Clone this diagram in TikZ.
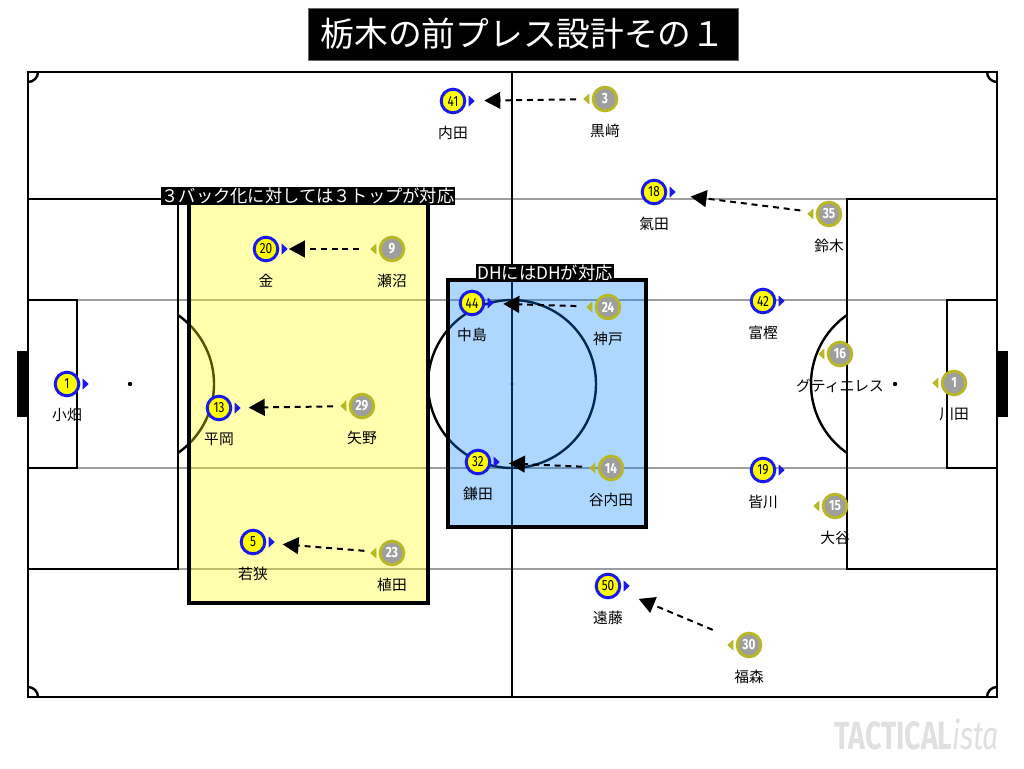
\documentclass[tikz,border=0pt]{standalone}
\usepackage{fontspec}
\setmainfont{Noto Sans CJK JP}
\newfontfamily\numfont[FakeStretch=0.8]{Fira Sans}
\newfontfamily\markfont[FakeStretch=0.72]{Fira Sans}
\usetikzlibrary{positioning,arrows.meta}

\definecolor{homeblue}{RGB}{25,25,235}
\definecolor{homeyellow}{RGB}{255,255,0}
\definecolor{awaygray}{RGB}{158,158,158}
\definecolor{awayolive}{RGB}{183,183,40}
\definecolor{threeyellow}{RGB}{255,255,0}
\definecolor{dhblue}{RGB}{0,132,255}

\begin{document}
\begin{tikzpicture}[x=0.25mm, y=-0.25mm, font=\fontsize{10.5}{12}\selectfont, node distance=2.2mm,
    pitch/.style={line width=0.6mm},
    lane/.style={line width=0.45mm, black!38},
    zone/.style={line width=0.8mm, fill opacity=0.32},
    tag/.style={fill=black, text=white, inner sep=0.6pt, font=\fontsize{12.3}{13}\selectfont},
    home/.style={circle, draw=homeblue, fill=homeyellow, line width=0.75mm, minimum size=5.9mm,
      inner sep=0pt, font=\numfont\fontsize{10.5}{10}\selectfont},
    away/.style={circle, draw=awayolive, fill=awaygray, line width=0.75mm, minimum size=5.9mm,
      inner sep=0pt, text=white, font=\numfont\bfseries\fontsize{10.5}{10}\selectfont},
    player/.style={inner sep=0pt},
    press/.style={-{Triangle[length=4mm, width=4.2mm]}, line width=0.5mm,
      dash pattern=on 1.5mm off 1.2mm, shorten <=3.9mm, shorten >=4.5mm}]

  \useasboundingbox (0,0) rectangle (1024,768);

  % lanes
  \foreach \ly in {199,300,468,569}
    \draw[lane] (28,\ly) -- (997,\ly);

  % pitch
  \draw[pitch] (28,72) rectangle (997,697);
  \draw[pitch] (512,72) -- (512,697);
  \draw[pitch] (512,384) circle[radius=84];
  \fill (512,384) circle[radius=1.6];
  \draw[pitch] (28,199) rectangle (178,569);
  \draw[pitch] (28,300) rectangle (77,468);
  \draw[pitch] (847,199) rectangle (997,569);
  \draw[pitch] (947,300) rectangle (997,468);
  \fill (130,384) circle[radius=2.2];
  \fill (895,384) circle[radius=2.2];
  \begin{scope}
    \clip (178,250) rectangle (300,520);
    \draw[pitch] (130,384) circle[radius=84];
  \end{scope}
  \begin{scope}
    \clip (700,250) rectangle (847,520);
    \draw[pitch] (895,384) circle[radius=84];
  \end{scope}
  \begin{scope}
    \clip (28,72) rectangle (997,697);
    \foreach \cx/\cy in {28/72,997/72,28/697,997/697}
      \draw[pitch] (\cx,\cy) circle[radius=10];
  \end{scope}
  \fill (17,351) rectangle (28,417);
  \fill (997,351) rectangle (1008,417);

  % zones
  \draw[zone, fill=threeyellow] (189,203) rectangle (428,603);
  \draw[zone, fill=dhblue] (448,280) rectangle (646,527);
  \node[tag] (threetag) at (308,196) {３バック化に対しては３トップが対応};
  \node[tag] (dhtag) at (545,273) {DHにはDHが対応};

  % players
  \foreach \num/\x/\y/\nm in {41/453/101/内田, 18/654/192/氣田, 20/266/249/金, 44/472/303/中島,
      42/763/301/富樫, 1/67/384/小畑, 13/219/408/平岡, 32/478/462/鎌田,
      19/763/470/皆川, 5/253/542/若狭, 50/608/586/遠藤} {
    \node[home] (h\num) at (\x,\y) {\num};
    \fill[homeblue] ([xshift=0.6mm]h\num.east) ++(0,-5.5) -- ++(6,5.5) -- ++(-6,5.5) -- cycle;
    \node[player, below=2.8mm of h\num] {\nm};
  }
  \foreach \num/\x/\y/\nm in {3/605/99/黒﨑, 35/829/214/鈴木, 9/392/249/瀬沼, 24/608/307/神戸,
      16/840/354/グティエレス, 1/954/383/川田, 29/362/406/矢野, 14/611/468/谷内田,
      15/835/506/大谷, 23/392/553/植田, 30/749/645/福森} {
    \node[away] (a\num) at (\x,\y) {\num};
    \fill[awayolive] ([xshift=-0.6mm]a\num.west) ++(0,-5.5) -- ++(-6,5.5) -- ++(6,5.5) -- cycle;
    \node[player, below=2.8mm of a\num] {\nm};
  }

  % pressing
  \draw[press] (a3) -- (h41);
  \draw[press, shorten >=5.9mm] (a35) -- (h18);
  \draw[press, shorten <=4.9mm, shorten >=2.4mm] (a9) -- (h20);
  \draw[press, shorten <=4.6mm] (a24) -- (h44);
  \draw[press, shorten >=4.1mm] (a29) -- (h13);
  \draw[press, shorten >=4.4mm] (a14) -- (h32);
  \draw[press, shorten <=3.6mm, shorten >=4.1mm] (a23) -- (h5);
  \draw[press, shorten <=6.5mm, shorten >=5mm] (a30) -- (h50);

  % title
  \node[fill=black, draw=black!60, text=white, minimum width=107.5mm, minimum height=13mm,
    font=\fontsize{24}{26}\selectfont] (title) at (523,34) {栃木の前プレス設計その１};

  \node[text=black!12, inner sep=0pt] (brand) at (917,734)
    {\markfont\fontsize{28}{30}\selectfont\textbf{TACTICAL}\textit{ista}};
\end{tikzpicture}
\end{document}
